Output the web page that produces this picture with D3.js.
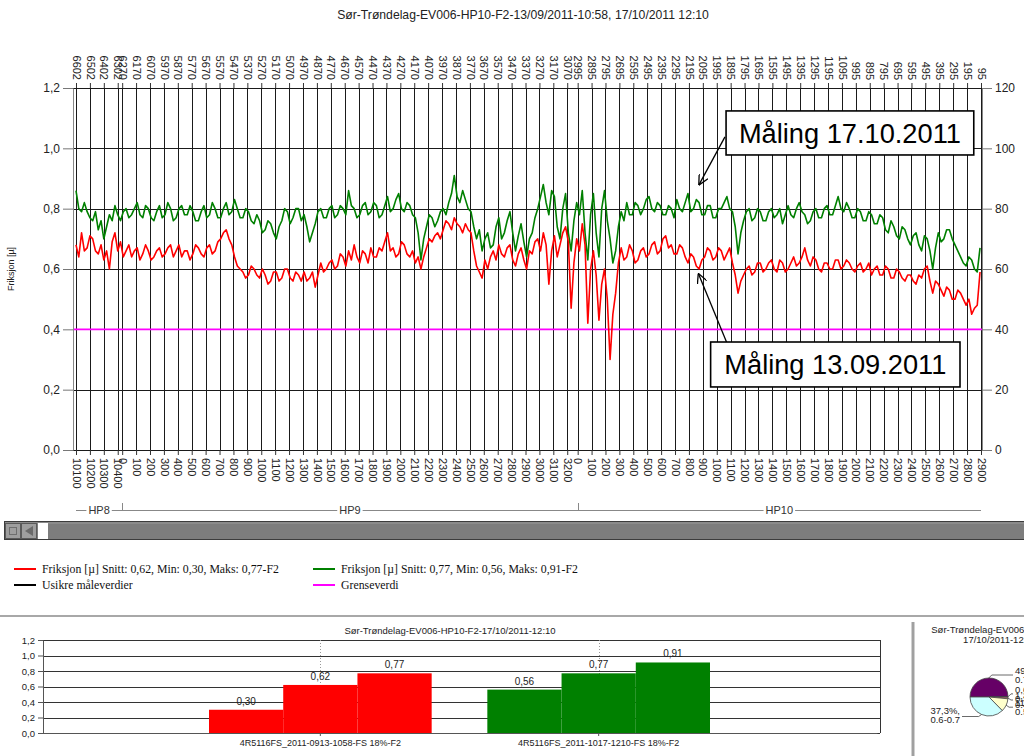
<!DOCTYPE html>
<html><head><meta charset="utf-8">
<script src="https://cdn.jsdelivr.net/npm/d3@7"></script>
<style>body{margin:0;background:#fff}svg{display:block}</style>
</head><body>
<svg id="c" width="1024" height="756"></svg>
<script>
// ---------------- DATA ----------------
const mainTitle = "Sør-Trøndelag-EV006-HP10-F2-13/09/2011-10:58, 17/10/2011 12:10";
const yAxisLabel = "Friksjon [µ]";
const sectionNames = ["HP8", "HP9", "HP10"];
const sectionFrom = [10100, 0, 0];
const sectionLength = [332, 3275, 2900];
const hp8Ticks = [10100, 10200, 10300, 10400];
const hp9Ticks = d3.range(0, 3201, 100);
const hp10Ticks = d3.range(0, 2901, 100);
const topStart = 6602;            // top axis: reverse running distance
const leftTicks = [0, 0.2, 0.4, 0.6, 0.8, 1.0, 1.2];
const rightTicks = [0, 20, 40, 60, 80, 100, 120];
const limitValue = 0.4;           // Grenseverdi
const sampleStep = 20;            // metres between samples

// Måling 13.09.2011 (red)
const red = [
0.68,0.64,0.72,0.66,0.67,0.71,0.70,0.66,0.65,0.68,0.63,0.66,0.60,0.69,0.72,0.66,0.69,0.64,0.66,0.68,
0.64,0.66,0.67,0.63,0.65,0.68,0.66,0.63,0.64,0.66,0.67,0.64,0.65,0.67,0.68,0.64,0.66,0.68,0.64,0.66,
0.66,0.63,0.65,0.68,0.67,0.65,0.64,0.67,0.68,0.65,0.66,0.69,0.70,0.72,0.73,0.70,0.68,0.64,0.61,0.60,
0.59,0.57,0.58,0.61,0.60,0.58,0.57,0.60,0.58,0.55,0.56,0.59,0.59,0.56,0.57,0.60,0.60,0.57,0.56,0.59,
0.58,0.56,0.59,0.56,0.57,0.59,0.54,0.58,0.62,0.59,0.60,0.62,0.63,0.60,0.61,0.65,0.64,0.61,0.66,0.63,
0.68,0.64,0.62,0.66,0.65,0.62,0.67,0.64,0.64,0.67,0.66,0.69,0.72,0.66,0.67,0.64,0.65,0.69,0.68,0.65,
0.64,0.66,0.62,0.64,0.60,0.64,0.67,0.70,0.69,0.71,0.72,0.70,0.73,0.76,0.75,0.73,0.77,0.75,0.74,0.72,
0.75,0.73,0.72,0.66,0.61,0.59,0.57,0.63,0.60,0.64,0.66,0.63,0.68,0.65,0.64,0.67,0.68,0.63,0.61,0.65,
0.67,0.63,0.60,0.66,0.65,0.69,0.70,0.66,0.72,0.68,0.55,0.66,0.71,0.64,0.68,0.72,0.74,0.69,0.47,0.62,
0.70,0.66,0.75,0.68,0.42,0.60,0.66,0.58,0.43,0.55,0.60,0.50,0.30,0.45,0.52,0.62,0.67,0.63,0.64,0.68,
0.66,0.62,0.63,0.66,0.67,0.64,0.65,0.68,0.69,0.65,0.66,0.70,0.71,0.67,0.68,0.65,0.65,0.68,0.67,0.64,
0.62,0.65,0.64,0.61,0.60,0.63,0.64,0.67,0.66,0.63,0.64,0.67,0.66,0.63,0.65,0.67,0.62,0.58,0.52,0.56,
0.58,0.60,0.61,0.58,0.59,0.62,0.62,0.59,0.60,0.62,0.63,0.60,0.59,0.63,0.62,0.59,0.60,0.62,0.64,0.61,
0.62,0.64,0.67,0.63,0.61,0.64,0.63,0.60,0.59,0.62,0.62,0.60,0.60,0.63,0.63,0.60,0.61,0.63,0.62,0.60,
0.59,0.61,0.62,0.59,0.60,0.62,0.58,0.60,0.61,0.58,0.58,0.61,0.60,0.57,0.57,0.60,0.59,0.57,0.56,0.58,
0.58,0.56,0.55,0.58,0.57,0.60,0.61,0.56,0.52,0.56,0.55,0.53,0.51,0.54,0.53,0.50,0.50,0.53,0.52,0.50,
0.48,0.50,0.45,0.47,0.48,0.59];
// Måling 17.10.2011 (green)
const green = [
0.86,0.80,0.79,0.82,0.79,0.77,0.76,0.79,0.73,0.76,0.70,0.74,0.78,0.76,0.81,0.78,0.76,0.79,0.80,0.77,
0.78,0.80,0.82,0.78,0.77,0.81,0.80,0.77,0.76,0.79,0.81,0.77,0.78,0.82,0.80,0.76,0.77,0.80,0.81,0.78,
0.78,0.81,0.79,0.76,0.76,0.79,0.81,0.77,0.78,0.82,0.80,0.77,0.77,0.80,0.82,0.78,0.79,0.83,0.80,0.77,
0.77,0.80,0.79,0.76,0.75,0.78,0.76,0.72,0.73,0.76,0.75,0.72,0.70,0.74,0.76,0.80,0.79,0.75,0.77,0.80,
0.80,0.76,0.78,0.74,0.69,0.72,0.75,0.79,0.80,0.77,0.77,0.80,0.81,0.77,0.78,0.81,0.80,0.78,0.86,0.81,
0.80,0.77,0.78,0.81,0.82,0.78,0.79,0.82,0.81,0.77,0.78,0.81,0.84,0.79,0.80,0.83,0.85,0.80,0.79,0.82,
0.81,0.78,0.77,0.72,0.63,0.70,0.74,0.78,0.77,0.74,0.76,0.79,0.80,0.78,0.82,0.85,0.91,0.84,0.82,0.86,
0.83,0.80,0.79,0.74,0.70,0.73,0.66,0.70,0.72,0.67,0.68,0.74,0.77,0.70,0.72,0.76,0.79,0.72,0.66,0.71,
0.75,0.69,0.64,0.70,0.72,0.77,0.80,0.84,0.88,0.82,0.78,0.86,0.84,0.74,0.70,0.80,0.85,0.72,0.66,0.76,
0.82,0.78,0.86,0.72,0.63,0.78,0.85,0.72,0.64,0.80,0.86,0.76,0.70,0.62,0.66,0.74,0.79,0.76,0.82,0.78,
0.78,0.82,0.81,0.78,0.80,0.83,0.84,0.80,0.79,0.82,0.81,0.78,0.78,0.81,0.80,0.77,0.83,0.80,0.79,0.82,
0.85,0.79,0.80,0.83,0.82,0.78,0.78,0.81,0.81,0.77,0.77,0.80,0.80,0.82,0.84,0.80,0.79,0.74,0.65,0.72,
0.76,0.79,0.80,0.76,0.77,0.80,0.79,0.76,0.76,0.79,0.80,0.77,0.78,0.80,0.75,0.78,0.81,0.78,0.77,0.80,
0.82,0.79,0.78,0.75,0.76,0.79,0.80,0.77,0.77,0.80,0.81,0.78,0.78,0.81,0.84,0.80,0.79,0.82,0.80,0.77,
0.77,0.80,0.79,0.76,0.76,0.79,0.78,0.75,0.75,0.78,0.77,0.73,0.72,0.76,0.74,0.71,0.70,0.74,0.73,0.70,
0.68,0.71,0.72,0.68,0.66,0.71,0.70,0.66,0.60,0.67,0.72,0.69,0.70,0.73,0.73,0.70,0.68,0.66,0.64,0.62,
0.61,0.64,0.63,0.60,0.59,0.67];

const legendLabels = ["Friksjon [µ] Snitt: 0,62, Min: 0,30, Maks: 0,77-F2", "Usikre måleverdier",
                      "Friksjon [µ] Snitt: 0,77, Min: 0,56, Maks: 0,91-F2", "Grenseverdi"];
const legendColors = ["#ff0000", "#000000", "#008000", "#ff00ff"];

const annotationTexts = ["Måling 17.10.2011", "Måling 13.09.2011"];

const barTitle = "Sør-Trøndelag-EV006-HP10-F2-17/10/2011-12:10";
const barCategories = ["4R5116FS_2011-0913-1058-FS 18%-F2", "4R5116FS_2011-1017-1210-FS 18%-F2"];
const barStats = ["Min", "Snitt", "Maks"];
const barValuesRed = [0.30, 0.62, 0.77];
const barValuesGreen = [0.56, 0.77, 0.91];
const barColors = ["#ff0000", "#008000"];
const barTicks = [0, 0.2, 0.4, 0.6, 0.8, 1.0, 1.2];

const pieTitle = ["Sør-Trøndelag-EV006-HP10-F2-", "17/10/2011-12:10"];
const pieClasses = ["0.7-0.8", "0.3-0.4", "0.4-0.5", "0.5-0.6", "0.6-0.7"];
const pieShares = [49.6, 0.6, 1.3, 11.2, 37.3];
const pieColors = ["#660066", "#000080", "#ff8080", "#ffffcc", "#ccffff"];

// ---------------- DRAW ----------------
const svg = d3.select("#c");
const SANS = "'Liberation Sans', Arial, sans-serif";
const fmtC = (v, n) => d3.format("." + n + "f")(v).replace(".", ",");

const P = {left: 76, right: 981, top: 88, bottom: 450, axL: 73, axR: 982};
const total = d3.sum(sectionLength);
const x = d3.scaleLinear().domain([0, total]).range([P.left, P.right]);
const yL = d3.scaleLinear().domain([0, 1.2]).range([P.bottom, P.top]);
const yR = d3.scaleLinear().domain([0, 120]).range([P.bottom, P.top]);

const offsets = [0, sectionLength[0], sectionLength[0] + sectionLength[1]];
const tickSets = [hp8Ticks, hp9Ticks, hp10Ticks];
const ticks = [];
tickSets.forEach((ts, k) => ts.forEach(t => ticks.push({d: offsets[k] + (t - sectionFrom[k]), label: t})));

// title
svg.append("text").attr("x", 523).attr("y", 19).attr("text-anchor", "middle")
  .attr("font-family", SANS).attr("font-size", 12.2).attr("fill", "#222").text(mainTitle);

// horizontal gridlines
svg.append("g").selectAll("line").data(leftTicks).join("line")
  .attr("x1", P.axL).attr("x2", P.axR).attr("y1", d => Math.round(yL(d)) + 0.5).attr("y2", d => Math.round(yL(d)) + 0.5)
  .attr("stroke", "#1a1a1a").attr("stroke-width", 1);

// vertical gridlines
svg.append("g").selectAll("line").data(ticks).join("line")
  .attr("x1", d => Math.round(x(d.d)) + 0.5).attr("x2", d => Math.round(x(d.d)) + 0.5)
  .attr("y1", P.top).attr("y2", P.bottom).attr("stroke", "#1a1a1a").attr("stroke-width", 1);

// limit line
svg.append("line").attr("x1", P.axL).attr("x2", P.axR).attr("y1", yL(limitValue)).attr("y2", yL(limitValue))
  .attr("stroke", "#ff00ff").attr("stroke-width", 1.6);

// axes
function styleAxis(g) {
  g.attr("font-family", SANS).attr("font-size", 11);
  g.selectAll(".tick line").attr("stroke", "#333");
  g.selectAll(".tick text").attr("fill", "#222");
}
const gB = svg.append("g").attr("transform", `translate(0,${P.bottom})`)
  .call(d3.axisBottom(x).tickValues(ticks.map(t => t.d)).tickFormat((d, i) => ticks[i].label).tickSize(5).tickSizeOuter(0));
gB.select(".domain").remove();
styleAxis(gB);
gB.selectAll(".tick text").attr("transform", "rotate(90)").attr("x", 8).attr("y", 0).attr("dy", "0.35em").style("text-anchor", "start");

const gT = svg.append("g").attr("transform", `translate(0,${P.top})`)
  .call(d3.axisTop(x).tickValues(ticks.map(t => t.d)).tickFormat(d => topStart - d).tickSize(5).tickSizeOuter(0));
gT.select(".domain").remove();
styleAxis(gT);
gT.selectAll(".tick text").attr("transform", "rotate(90)").attr("x", -8).attr("y", 0).attr("dy", "0.35em").style("text-anchor", "end");

const gL = svg.append("g").attr("transform", `translate(${P.axL},0)`)
  .call(d3.axisLeft(yL).tickValues(leftTicks).tickFormat(d => fmtC(d, 1)).tickSize(10).tickSizeOuter(0).tickPadding(3));
styleAxis(gL); gL.attr("font-size", 12);
gL.select(".domain").attr("stroke", "#888");
gL.selectAll(".tick line").attr("stroke", "#777");

const gR = svg.append("g").attr("transform", `translate(${P.axR},0)`)
  .call(d3.axisRight(yR).tickValues(rightTicks).tickSize(10).tickSizeOuter(0).tickPadding(3));
styleAxis(gR); gR.attr("font-size", 12);
gR.select(".domain").attr("stroke", "#888");
gR.selectAll(".tick line").attr("stroke", "#777");

svg.append("text").attr("transform", `translate(14,${(P.top + P.bottom) / 2}) rotate(-90)`)
  .attr("text-anchor", "middle").attr("font-family", SANS).attr("font-size", 9).attr("fill", "#222").text(yAxisLabel);

// series
const line = d3.line().x((v, i) => x(Math.min(i * sampleStep, total))).y(v => yL(v));
svg.append("path").datum(green).attr("d", line).attr("fill", "none").attr("stroke", "#008000").attr("stroke-width", 1.6).attr("stroke-linejoin", "round");
svg.append("path").datum(red).attr("d", line).attr("fill", "none").attr("stroke", "#ff0000").attr("stroke-width", 1.6).attr("stroke-linejoin", "round");

// annotations
const defs = svg.append("defs");
defs.append("marker").attr("id", "arr").attr("viewBox", "0 0 10 10").attr("refX", 10).attr("refY", 5)
  .attr("markerWidth", 10).attr("markerHeight", 10).attr("markerUnits", "userSpaceOnUse").attr("orient", "auto")
  .append("path").attr("d", "M0,0 L10,5 L0,10").attr("fill", "none").attr("stroke", "#000").attr("stroke-width", 1.3);
const annBoxD = [[4674, 6455], [4563, 6356]];
const annBoxV = [[1.124, 0.978], [0.358, 0.209]];
const annFrom = [[4666, 1.038], [4678, 0.357]];
const annTip = [[4478, 0.878], [4474, 0.586]];
annotationTexts.forEach((t, k) => {
  svg.append("line").attr("x1", x(annFrom[k][0])).attr("y1", yL(annFrom[k][1]))
    .attr("x2", x(annTip[k][0])).attr("y2", yL(annTip[k][1]))
    .attr("stroke", "#000").attr("stroke-width", 1.3).attr("marker-end", "url(#arr)");
  const x0 = x(annBoxD[k][0]), x1 = x(annBoxD[k][1]), y0 = yL(annBoxV[k][0]), y1 = yL(annBoxV[k][1]);
  svg.append("rect").attr("x", x0).attr("y", y0).attr("width", x1 - x0).attr("height", y1 - y0)
    .attr("fill", "#fff").attr("stroke", "#000").attr("stroke-width", 1.6);
  svg.append("text").attr("x", (x0 + x1) / 2).attr("y", (y0 + y1) / 2 + 10).attr("text-anchor", "middle")
    .attr("font-family", SANS).attr("font-size", 27).attr("fill", "#000")
    .attr("textLength", 222).attr("lengthAdjust", "spacingAndGlyphs").text(t);
});

// section band (HP8/HP9/HP10)
const secY = 510;
svg.append("line").attr("x1", x(0)).attr("x2", x(total)).attr("y1", secY + 0.5).attr("y2", secY + 0.5).attr("stroke", "#888");
offsets.slice(1).forEach(o => svg.append("line").attr("x1", Math.round(x(o)) + 0.5).attr("x2", Math.round(x(o)) + 0.5)
  .attr("y1", secY - 7).attr("y2", secY).attr("stroke", "#888"));
sectionNames.forEach((n, k) => {
  const cx = (x(offsets[k]) + x(offsets[k] + sectionLength[k])) / 2;
  const g = svg.append("g");
  const r = g.append("rect").attr("fill", "#fff");
  const t = g.append("text").attr("x", cx).attr("y", secY + 4).attr("text-anchor", "middle")
    .attr("font-family", SANS).attr("font-size", 11).attr("fill", "#333").text(n);
  const w = t.node().getComputedTextLength();
  r.attr("x", cx - w / 2 - 2).attr("y", secY - 3).attr("width", w + 4).attr("height", 7);
});

// scrollbar
svg.append("rect").attr("x", 4.5).attr("y", 521.5).attr("width", 1020).attr("height", 18).attr("fill", "#7d7d7d").attr("stroke", "#3c3c3c");
svg.append("line").attr("x1", 5).attr("x2", 1024).attr("y1", 523).attr("y2", 523).attr("stroke", "#9a9a9a");
svg.append("rect").attr("x", 5.5).attr("y", 523.5).attr("width", 15).attr("height", 15).attr("fill", "#9e9e9e").attr("stroke", "#5a5a5a");
svg.append("rect").attr("x", 9.5).attr("y", 527.5).attr("width", 7).attr("height", 7).attr("fill", "none").attr("stroke", "#6e6e6e");
svg.append("rect").attr("x", 21.5).attr("y", 523.5).attr("width", 15).attr("height", 15).attr("fill", "#9e9e9e").attr("stroke", "#5a5a5a");
svg.append("path").attr("d", "M25,531 L33,526 L33,536 Z").attr("fill", "#6a6a6a");
svg.append("rect").attr("x", 38).attr("y", 523).attr("width", 10).attr("height", 16).attr("fill", "#fff");

// legend
legendLabels.forEach((l, k) => {
  const lx = k < 2 ? 14 : 313, ly = k % 2 === 0 ? 569 : 585;
  svg.append("line").attr("x1", lx).attr("x2", lx + 22).attr("y1", ly).attr("y2", ly).attr("stroke", legendColors[k]).attr("stroke-width", 2);
  svg.append("text").attr("x", lx + 28).attr("y", ly + 4).attr("font-family", "'Liberation Serif', 'Times New Roman', serif")
    .attr("font-size", 11.8).attr("fill", "#111").text(l);
});

// separators
svg.append("line").attr("x1", 0).attr("x2", 1024).attr("y1", 616).attr("y2", 616).attr("stroke", "#a8a8a8").attr("stroke-width", 2);
svg.append("line").attr("x1", 913).attr("x2", 913).attr("y1", 622).attr("y2", 756).attr("stroke", "#a0a0a0").attr("stroke-width", 3);

// ---------------- BAR CHART ----------------
const B = {left: 43, right: 880, top: 640, bottom: 733};
const yb = d3.scaleLinear().domain([0, 1.2]).range([B.bottom, B.top]);
const xb = d3.scaleBand().domain(barCategories).range([42, 877]).paddingInner(0.2).paddingOuter(0.6);
const xs = d3.scaleBand().domain(barStats).range([0, xb.bandwidth()]);
svg.append("text").attr("x", 450).attr("y", 634).attr("text-anchor", "middle").attr("font-family", SANS)
  .attr("font-size", 9.5).attr("fill", "#222").text(barTitle);
svg.append("g").selectAll("line").data(barTicks).join("line")
  .attr("x1", B.left).attr("x2", B.right).attr("y1", d => Math.round(yb(d)) + 0.5).attr("y2", d => Math.round(yb(d)) + 0.5)
  .attr("stroke", "#333");
svg.append("line").attr("x1", B.right + 0.5).attr("x2", B.right + 0.5).attr("y1", B.top).attr("y2", B.bottom).attr("stroke", "#333");
svg.append("g").selectAll("line").data(barCategories).join("line")
  .attr("x1", d => Math.round(xb(d) + xb.bandwidth() / 2) + 0.5).attr("x2", d => Math.round(xb(d) + xb.bandwidth() / 2) + 0.5)
  .attr("y1", B.top).attr("y2", B.bottom).attr("stroke", "#999").attr("stroke-dasharray", "1,2");
[barValuesRed, barValuesGreen].forEach((vals, c) => {
  const g = svg.append("g").attr("transform", `translate(${xb(barCategories[c])},0)`);
  g.selectAll("rect").data(vals).join("rect")
    .attr("x", (v, i) => xs(barStats[i])).attr("width", xs.bandwidth())
    .attr("y", v => yb(v)).attr("height", v => yb(0) - yb(v)).attr("fill", barColors[c]);
  g.selectAll("text").data(vals).join("text")
    .attr("x", (v, i) => xs(barStats[i]) + xs.bandwidth() / 2).attr("y", v => yb(v) - 5)
    .attr("text-anchor", "middle").attr("font-family", SANS).attr("font-size", 10).attr("fill", "#222")
    .text(v => fmtC(v, 2));
});
const gbl = svg.append("g").attr("transform", `translate(${B.left},0)`)
  .call(d3.axisLeft(yb).tickValues(barTicks).tickFormat(d => fmtC(d, 1)).tickSize(5).tickSizeOuter(0));
gbl.attr("font-family", SANS).attr("font-size", 9.5);
gbl.select(".domain").attr("stroke", "#555");
gbl.selectAll(".tick line").attr("stroke", "#555");
gbl.selectAll(".tick text").attr("fill", "#222");
const gbb = svg.append("g").attr("transform", `translate(0,${B.bottom})`)
  .call(d3.axisBottom(xb).tickSize(3).tickSizeOuter(0));
gbb.attr("font-family", SANS).attr("font-size", 9);
gbb.select(".domain").attr("stroke", "#555");
gbb.selectAll(".tick line").attr("stroke", "#555");
gbb.selectAll(".tick text").attr("fill", "#222").attr("y", 7);

// ---------------- PIE ----------------
const pc = {x: 989, y: 697, r: 19};
pieTitle.forEach((t, k) => svg.append("text").attr("x", 1000).attr("y", 633 + k * 10).attr("text-anchor", "middle")
  .attr("font-family", SANS).attr("font-size", 9.5).attr("fill", "#222").text(t));
const pie = d3.pie().sort(null).startAngle(-Math.PI / 2).endAngle(1.5 * Math.PI)(pieShares);
const arc = d3.arc().innerRadius(0).outerRadius(pc.r);
const gp = svg.append("g").attr("transform", `translate(${pc.x},${pc.y})`);
gp.selectAll("path").data(pie).join("path").attr("d", arc).attr("fill", (d, i) => pieColors[i])
  .attr("stroke", "#444").attr("stroke-width", 0.8);
pie.forEach((p, i) => {
  const a = (p.startAngle + p.endAngle) / 2;
  const ex = Math.sin(a) * pc.r, ey = -Math.cos(a) * pc.r;
  const right = ex > -pc.r * 0.2;
  const lx = right ? 1013 - pc.x : 962 - pc.x;
  const ly = ey < 0 ? ey - 3 : ey + 2;
  gp.append("polyline").attr("points", `${ex},${ey} ${right ? ex + 3 : ex - 3},${ly} ${lx},${ly}`)
    .attr("fill", "none").attr("stroke", "#444").attr("stroke-width", 0.8);
  const tx = right ? lx + 2 : lx - 2;
  const t = gp.append("text").attr("x", tx).attr("y", right ? ly - 1 : ly - 3)
    .attr("text-anchor", right ? "start" : "end").attr("font-family", SANS).attr("font-size", 9.5).attr("fill", "#222");
  t.append("tspan").attr("x", tx).attr("dy", 0).text(fmtC(pieShares[i], 1) + "%,");
  t.append("tspan").attr("x", tx).attr("dy", 9).text(pieClasses[i]);
});
</script>
</body></html>
